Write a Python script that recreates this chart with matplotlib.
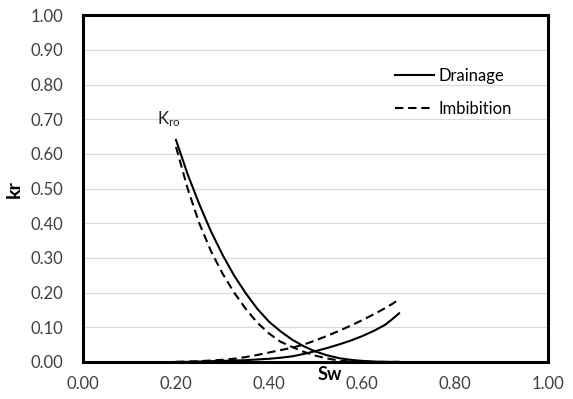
import matplotlib.pyplot as plt

# Relative permeability curves, drainage vs imbibition
sw = [0.20, 0.225, 0.25, 0.275, 0.30, 0.325, 0.35, 0.375, 0.40, 0.425,
      0.45, 0.475, 0.50, 0.525, 0.55, 0.575, 0.60, 0.625, 0.65, 0.665, 0.68]

kro_drainage = [0.64, 0.541, 0.455, 0.377, 0.309, 0.249, 0.198, 0.153, 0.116, 0.088,
                0.064, 0.045, 0.030, 0.019, 0.011, 0.006, 0.003, 0.001, 0.0, 0.0, 0.0]
kro_imbibition = [0.62, 0.50, 0.40, 0.32, 0.255, 0.20, 0.153, 0.113, 0.082, 0.058,
                  0.043, 0.029, 0.018, 0.010, 0.004, 0.001, 0.0, 0.0, 0.0, 0.0, 0.0]

krw_drainage = [0.0, 0.0, 0.001, 0.002, 0.003, 0.004, 0.005, 0.007, 0.009, 0.012,
                0.016, 0.023, 0.031, 0.040, 0.050, 0.061, 0.074, 0.089, 0.107, 0.123, 0.14]
krw_imbibition = [0.0, 0.001, 0.002, 0.004, 0.006, 0.009, 0.014, 0.020, 0.027, 0.034,
                  0.041, 0.050, 0.062, 0.075, 0.089, 0.104, 0.120, 0.137, 0.155, 0.167, 0.18]

xticks = [0.0, 0.2, 0.4, 0.6, 0.8, 1.0]
yticks = [0.0, 0.1, 0.2, 0.3, 0.4, 0.5, 0.6, 0.7, 0.8, 0.9, 1.0]

plt.rcParams['font.family'] = ['Lato', 'DejaVu Sans']
plt.rcParams['mathtext.default'] = 'regular'

fig = plt.figure(figsize=(5.73, 3.99), dpi=100)
ax = fig.add_axes([0.145, 0.093, 0.811, 0.869])

dash = (4, 2.3)
ax.plot(sw, kro_drainage, color='black', lw=1.5, label='Drainage')
ax.plot(sw, kro_imbibition, color='black', lw=1.5, dashes=dash, label='Imbibition')
ax.plot(sw, krw_drainage, color='black', lw=1.5)
ax.plot(sw, krw_imbibition, color='black', lw=1.5, dashes=dash)

ax.set_xlim(0, 1)
ax.set_ylim(0, 1)
ax.set_xticks(xticks)
ax.set_yticks(yticks)
ax.set_xticklabels(['%.2f' % t for t in xticks])
ax.set_yticklabels(['%.2f' % t for t in yticks])
ax.tick_params(length=0, labelsize=12, colors='#404040')
ax.tick_params(axis='y', pad=14)
ax.tick_params(axis='x', pad=10)
ax.grid(axis='y', color='#d9d9d9', lw=0.9)
ax.set_axisbelow(True)
for s in ax.spines.values():
    s.set_linewidth(2.2)
    s.set_color('black')

ax.text(0.185, 0.70, 'K$_{ro}$', fontsize=12, ha='center', va='center', color='#202020')

ax.text(0.53, -0.035, 'Sw', transform=ax.transAxes, fontsize=13, fontweight='bold',
        ha='center', va='center')
fig.text(0.025, 0.525, 'kr', fontsize=14, fontweight='bold', rotation=90,
         ha='center', va='center')

ax.legend(frameon=False, loc='upper left', bbox_to_anchor=(0.64, 0.89),
          handlelength=2.3, handletextpad=0.3, labelspacing=1.0, fontsize=12)

fig.savefig('out.png', dpi=100)
